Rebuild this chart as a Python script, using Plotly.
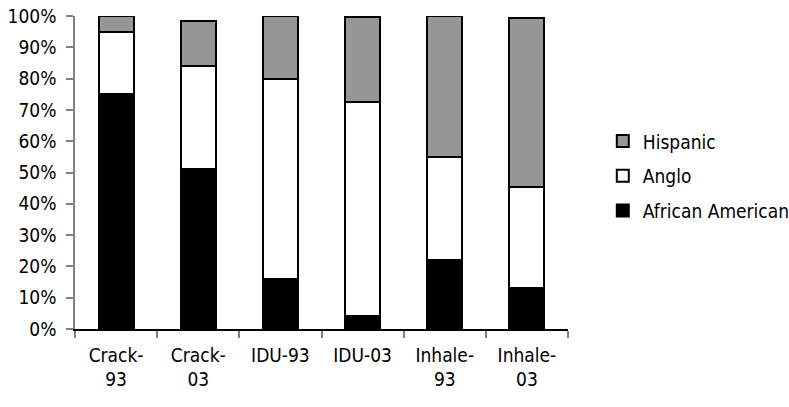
import plotly.graph_objects as go

# Group composition by drug-use category and survey year (percent of each group)
categories = ["Crack-<br>93", "Crack-<br>03", "IDU-93", "IDU-03", "Inhale-<br>93", "Inhale-<br>03"]
african_american = [75, 51, 16, 4, 22, 13]
anglo = [20, 33, 64, 68.5, 33, 32.5]
hispanic = [5, 14.5, 20, 27.3, 45, 54]

FONT = "DejaVu Sans Condensed, Liberation Sans Narrow, Arial Narrow, sans-serif"

# (name, values, fill, legend position from top)
series = [
    ("African American", african_american, "#000000", 3),
    ("Anglo", anglo, "#ffffff", 2),
    ("Hispanic", hispanic, "#969696", 1),
]

fig = go.Figure()
for i, (name, vals, color, rank) in enumerate(series):
    fig.add_trace(go.Bar(
        x=categories, y=vals, name=name,
        marker=dict(color=color, line=dict(color="#000000", width=2)),
        legendgroup=f"g{i}", legendrank=rank,
    ))

fig.update_layout(
    barmode="stack",
    bargap=0.573,
    width=789, height=407,
    margin=dict(l=75, r=221, t=16, b=78, autoexpand=False),
    paper_bgcolor="white", plot_bgcolor="white",
    font=dict(family=FONT, size=19, color="#000000"),
    showlegend=True,
    legend=dict(
        xref="container", yref="container",
        x=0.764, y=0.567, xanchor="left", yanchor="middle",
        traceorder="grouped", tracegroupgap=7,
        font=dict(family=FONT, size=19),
        itemwidth=30,
    ),
)
fig.update_yaxes(
    range=[0, 100], tickvals=list(range(0, 101, 10)),
    ticktext=[f"{v}%" for v in range(0, 101, 10)],
    showgrid=False, zeroline=False, automargin=False,
    showline=True, linecolor="#808080", linewidth=1.5,
    ticks="outside", ticklen=7, tickcolor="#808080", tickwidth=1.5,
    ticklabelstandoff=6,
)
fig.update_xaxes(
    showgrid=False, showline=True, linecolor="#000000", linewidth=1.5,
    ticks="outside", tickson="boundaries", ticklen=7, automargin=False,
    tickcolor="#808080", tickwidth=1.5,
    ticklabelstandoff=8,
)

fig.write_html("out.html")
